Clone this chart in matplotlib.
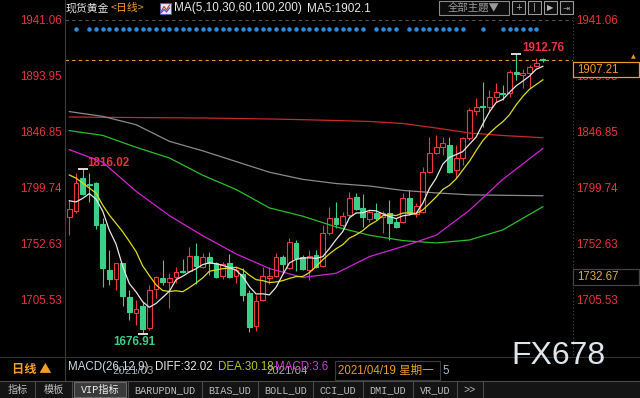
import matplotlib
matplotlib.use('Agg')
import matplotlib.pyplot as plt
import matplotlib.transforms as mtransforms
from matplotlib.patches import Rectangle
import pandas as pd

plt.rcParams['font.family'] = ['Liberation Sans', 'Noto Sans CJK SC', 'DejaVu Sans']

# ---- spot gold, daily candles ----
opens = [1775.3, 1780.4, 1808.1, 1803.5, 1803.9, 1769.4, 1730.7, 1723.2, 1736.6, 1708.0,
         1694.6, 1700.4, 1681.9, 1714.8, 1724.0, 1720.6, 1724.9, 1729.9, 1729.9, 1742.5,
         1733.3, 1741.7, 1736.6, 1725.7, 1736.6, 1725.7, 1727.4, 1711.4, 1683.6, 1705.5,
         1724.0, 1725.7, 1741.7, 1732.4, 1753.5, 1741.7, 1730.7, 1743.4, 1734.1, 1761.9,
         1774.5, 1768.6, 1777.0, 1792.2, 1782.9, 1773.7, 1778.7, 1775.3, 1778.7, 1771.1,
         1771.1, 1791.3, 1777.9, 1779.5, 1813.2, 1829.2, 1834.2, 1835.9, 1814.9, 1825.0,
         1841.8, 1864.5, 1868.7, 1867.9, 1876.3, 1879.6, 1879.6, 1897.3, 1894.8, 1896.5,
         1902.4, 1908.4]
highs = [1789.6, 1812.3, 1816.02, 1812.3, 1804.5, 1774.5, 1747.6, 1737.0, 1737.0, 1713.9,
         1705.5, 1703.8, 1718.1, 1725.5, 1739.2, 1728.2, 1733.3, 1740.0, 1750.1, 1753.5,
         1745.0, 1745.9, 1737.5, 1737.5, 1744.3, 1734.1, 1732.4, 1713.9, 1709.7, 1733.3,
         1733.3, 1745.0, 1743.4, 1757.7, 1756.0, 1743.4, 1747.6, 1747.6, 1768.6, 1783.7,
         1787.9, 1779.5, 1796.4, 1795.5, 1794.7, 1781.2, 1787.1, 1780.4, 1789.6, 1774.5,
         1795.5, 1798.1, 1787.1, 1817.4, 1842.6, 1844.3, 1842.6, 1842.6, 1835.9, 1842.6,
         1867.0, 1875.4, 1888.9, 1882.2, 1888.1, 1886.4, 1899.0, 1912.76, 1899.9, 1903.2,
         1909.1, 1909.1]
lows = [1760.2, 1778.7, 1793.5, 1788.0, 1765.2, 1716.4, 1718.1, 1713.9, 1700.4, 1688.7,
        1684.5, 1676.91, 1680.3, 1707.0, 1718.1, 1698.8, 1719.8, 1728.2, 1729.1, 1719.0,
        1732.4, 1726.5, 1724.0, 1723.2, 1724.0, 1719.8, 1704.7, 1679.0, 1679.5, 1704.7,
        1719.0, 1724.9, 1729.1, 1731.6, 1729.9, 1730.7, 1722.3, 1732.4, 1733.3, 1760.2,
        1766.1, 1767.0, 1775.3, 1781.2, 1766.9, 1771.1, 1772.8, 1762.0, 1756.0, 1766.1,
        1770.3, 1777.0, 1775.3, 1778.7, 1812.3, 1828.4, 1827.5, 1812.3, 1808.1, 1819.1,
        1840.1, 1861.1, 1851.1, 1863.7, 1872.1, 1873.8, 1876.3, 1890.6, 1883.9, 1883.9,
        1901.5, 1905.7]
closes = [1782.1, 1803.9, 1794.7, 1802.5, 1768.6, 1732.4, 1723.2, 1736.6, 1708.9, 1695.4,
          1697.9, 1681.1, 1713.9, 1724.9, 1720.6, 1724.0, 1729.1, 1729.1, 1742.5, 1734.1,
          1741.7, 1736.6, 1724.9, 1735.8, 1724.9, 1730.7, 1709.7, 1682.8, 1704.7, 1725.7,
          1726.0, 1741.7, 1735.8, 1754.3, 1740.8, 1731.6, 1742.5, 1733.3, 1761.9, 1774.5,
          1769.4, 1776.2, 1791.3, 1782.1, 1775.3, 1779.5, 1774.5, 1778.7, 1770.3, 1766.9,
          1791.3, 1778.7, 1784.6, 1813.2, 1829.2, 1834.2, 1837.6, 1813.2, 1825.0, 1841.8,
          1865.3, 1867.9, 1867.9, 1876.3, 1880.5, 1878.8, 1897.3, 1895.6, 1896.5, 1901.5,
          1904.9, 1907.21]
dates = pd.bdate_range('2021-02-19', periods=len(closes))

# moving averages as drawn
ma5 = [1789, 1788, 1791, 1795, 1790.4, 1780.4, 1764.3, 1752.7, 1733.9, 1719.3,
       1712.4, 1704.0, 1699.4, 1702.6, 1707.7, 1712.9, 1722.5, 1725.5, 1729.1, 1731.8,
       1735.3, 1736.8, 1736.0, 1734.6, 1732.8, 1730.6, 1725.2, 1716.8, 1710.6, 1710.7,
       1709.8, 1716.2, 1726.8, 1736.7, 1739.7, 1740.8, 1741.0, 1740.5, 1742.0, 1748.8,
       1756.3, 1763.1, 1774.7, 1778.7, 1778.9, 1780.9, 1780.5, 1778.0, 1775.7, 1774.0,
       1776.3, 1777.2, 1778.4, 1786.9, 1799.4, 1808.0, 1819.8, 1825.5, 1827.8, 1830.4,
       1836.6, 1842.6, 1853.6, 1863.8, 1871.6, 1874.3, 1880.2, 1885.7, 1889.7, 1893.9,
       1899.6, 1902.1]
ma10 = [1810.7, 1808, 1804, 1799.7, 1795.5, 1785.4, 1777, 1770, 1763, 1754.8,
        1746.4, 1734.2, 1726.1, 1718.3, 1713.5, 1712.7, 1713.3, 1712.5, 1715.9, 1719.8,
        1724.1, 1729.7, 1730.8, 1731.9, 1732.3, 1733.0, 1731.0, 1726.4, 1722.6, 1721.8,
        1720.2, 1720.7, 1721.8, 1723.7, 1725.2, 1725.3, 1728.6, 1733.7, 1739.4, 1744.3,
        1748.6, 1752.1, 1757.6, 1760.4, 1763.9, 1768.6, 1771.8, 1776.4, 1777.2, 1776.5,
        1778.6, 1778.9, 1778.2, 1781.3, 1786.7, 1792.2, 1798.5, 1802.0, 1807.4, 1814.9,
        1822.3, 1831.2, 1839.6, 1845.8, 1851.0, 1855.5, 1861.4, 1869.7, 1876.8, 1882.8,
        1886.8, 1890.7]
ma_long_idx = [0, 5, 10, 15, 20, 25, 30, 35, 40, 45, 50, 55, 60, 65, 71]
ma30 = [1832, 1821.5, 1797, 1776.5, 1759.6, 1744.3, 1732, 1724.5, 1728, 1742,
        1750.5, 1760, 1781, 1807, 1833]
ma60 = [1848, 1844, 1834, 1825, 1810.5, 1798.5, 1783, 1776, 1767, 1760,
        1755.5, 1753.5, 1756, 1764.5, 1784]
ma100 = [1864, 1860, 1853, 1839, 1831, 1822, 1813, 1807, 1803.5, 1801.4,
         1797.7, 1795.6, 1794, 1793.6, 1793.2]
ma200 = [1859.5, 1859.2, 1859, 1858.8, 1858.6, 1858.2, 1857.8, 1857.2, 1856.5, 1855.7,
         1854, 1850.2, 1846, 1843.9, 1842]

signal_idx = [1] + list(range(3, 45)) + list(range(46, 50)) + list(range(51, 60)) + [62] + list(range(65, 71))

price_levels = [1705.53, 1752.63, 1799.74, 1846.85, 1893.95, 1941.06]
side_price = 1732.67
macd_diff, macd_dea, macd_hist = 32.02, 30.18, 3.6

up_c, dn_c = '#f0373c', '#3ccf8a'
red_txt = '#e8343c'
orange = '#eb9a2c'

fig = plt.figure(figsize=(6.4, 3.98), dpi=100, facecolor='black')
W, H = 640, 398
ax = fig.add_axes([65 / W, (H - 355) / H, (573 - 65) / W, (355 - 17) / H])
ax.set_facecolor('black')
ov = fig.add_axes([0, 0, 1, 1])
ov.set_xlim(0, W)
ov.set_ylim(H, 0)
ov.axis('off')
ov.patch.set_alpha(0)

# candles
for i in range(len(closes)):
    o, h, l, c = opens[i], highs[i], lows[i], closes[i]
    col = up_c if c >= o else dn_c
    ax.vlines(i, l, h, color=col, lw=0.8, zorder=3)
    ax.add_patch(Rectangle((i - 0.36, min(o, c)), 0.72, max(abs(c - o), 0.5),
                           facecolor='black' if c >= o else col, edgecolor=col,
                           lw=0.8, zorder=4))

idx = list(range(len(closes)))
ax.plot(ma_long_idx, ma200, color='#c82828', lw=0.9, zorder=5)
ax.plot(ma_long_idx, ma100, color='#8a8a8a', lw=0.9, zorder=5)
ax.plot(ma_long_idx, ma60, color='#28c028', lw=0.9, zorder=5)
ax.plot(ma_long_idx, ma30, color='#d024d0', lw=0.9, zorder=5)
ax.plot(idx, ma10, color='#dcdc1e', lw=0.9, zorder=6)
ax.plot(idx, ma5, color='#e6e6e6', lw=0.9, zorder=6)

ax.axhline(price_levels[-1], color='#555555', ls=(0, (3, 3)), lw=0.8)
ax.axhline(closes[-1], color='#e0a030', ls=(0, (3, 3)), lw=0.8, zorder=2)

ax.set_xlim(-0.645, 75.52)
ax.set_ylim(1659.24, 1943.58)
ax.set_xticks([])
ax.set_yticks(price_levels)
ax.set_yticklabels([f'{v:.2f}' for v in price_levels])
ax.tick_params(axis='y', length=0, pad=2.5, labelsize=8.3, labelcolor=red_txt,
               labelleft=True, labelright=True)
for s in ax.spines.values():
    s.set_visible(False)

blend = mtransforms.blended_transform_factory(ax.transData, ov.transData)

# signal dots along the top
ax.plot(signal_idx, [29] * len(signal_idx), transform=blend, ls='none', marker='o',
        ms=2.2, color='#2b8ee0', clip_on=False)

# high / low marks
i_hi1 = highs.index(max(highs[:20]))
i_hi2 = highs.index(max(highs))
i_lo = lows.index(min(lows))
for i, v in [(i_hi1, highs[i_hi1]), (i_hi2, highs[i_hi2]), (i_lo, lows[i_lo])]:
    ax.plot(i, v, marker='_', ms=7, mew=1.2, color='white', zorder=7)
ax.annotate(f'{highs[i_hi1]:.2f}', xy=(i_hi1, highs[i_hi1]), xytext=(5, 0),
            textcoords='offset pixels', color=red_txt, fontsize=8.4, fontweight='bold',
            ha='left', va='bottom')
ax.annotate(f'{highs[i_hi2]:.2f}', xy=(i_hi2, highs[i_hi2]), xytext=(6, 0),
            textcoords='offset pixels', color=red_txt, fontsize=8.4, fontweight='bold',
            ha='left', va='bottom')
ax.annotate(f'{lows[i_lo]:.2f}', xy=(i_lo, lows[i_lo]), xytext=(-8, -2),
            textcoords='offset pixels', color='#3ccf8a', fontsize=8.4, fontweight='bold',
            ha='center', va='top', annotation_clip=False)

# frame lines
ov.plot([65, 65], [0, 381], color='#3a3a3a', lw=0.8)
ov.plot([573, 573], [17, 357], color='#4a4a4a', lw=0.8, ls=(0, (1, 2)))
ov.plot([0, W], [357, 357], color='#333333', lw=0.8)

# right-side value boxes
def to_px(price):
    return ov.transData.inverted().transform(ax.transData.transform((0, price)))[1]

for price, ec, tc in [(closes[-1], orange, orange), (side_price, '#444444', '#e0a84a')]:
    y = to_px(price)
    ov.add_patch(Rectangle((573, y + 1.5), 66, 15.5, facecolor='black', edgecolor=ec,
                           lw=0.9, zorder=10))
    ov.text(577, y + 9.5, f'{price:.2f}', color=tc, fontsize=8.3, va='center',
            ha='left', zorder=11)
ov.text(633, to_px(closes[-1]) - 3, '▲', color=orange, fontsize=4.5, ha='center',
        va='center', family='DejaVu Sans')

# header
ov.text(66, 8.5, '现货黄金', color='#e6e6e6', fontsize=7.8, va='center',
        family='Noto Sans CJK SC')
ov.text(111, 8.5, '<日线>', color=orange, fontsize=7.8, va='center',
        family='Noto Sans CJK SC')
ov.add_patch(Rectangle((160, 3), 11, 11, facecolor='#e8e8f4', edgecolor='#5a5aa0', lw=0.8))
ov.plot([161.5, 164, 166.5, 169.5], [11, 6.5, 10, 5], color='#d03030', lw=0.8)
ov.plot([161.5, 164, 166.5, 169.5], [12.5, 9.5, 12, 8], color='#3050d0', lw=0.8)
ov.text(174, 8.5, 'MA(5,10,30,60,100,200)', color='#e6e6e6', fontsize=8.5, va='center')
ov.text(307, 8.5, f'MA5:{ma5[-1]:.1f}', color='#e6e6e6', fontsize=8.5, va='center')

ov.add_patch(Rectangle((439, 1), 70, 14, facecolor='#0c0c0c', edgecolor='#8a8a8a', lw=0.8))
ov.text(474, 8.3, '全部主題▼', color='#9a9a9a', fontsize=7.5, ha='center', va='center',
        family='Noto Sans CJK SC')
for bx, g in zip([512, 528, 544, 560], ['+', '|', '▶', '⇥']):
    ov.add_patch(Rectangle((bx, 1), 13, 13, facecolor='#0c0c0c', edgecolor='#9a9a9a', lw=0.8))
    ov.text(bx + 6.5, 7.8, g, color='#b0b0b0', fontsize=6, ha='center', va='center',
            family='DejaVu Sans')

# month labels on the date axis
for i, d in enumerate(dates):
    if i > 0 and d.month != dates[i - 1].month and d.month in (3, 4):
        ov.text(i + 0.5, 371.5, d.strftime('%Y/%m'), transform=blend, color='#a8a8a8',
                fontsize=8.2, va='center', ha='left')

# indicator row
ov.text(12, 370, '日线 ▲', color='#f0a028', fontsize=8.8, fontweight='bold',
        va='center', family=['Noto Sans CJK SC', 'DejaVu Sans'])
ov.text(68, 367, 'MACD(26,12,9)', color='#c8d6e6', fontsize=8.3, va='center')
ov.text(155, 367, f'DIFF:{macd_diff:.2f}', color='#e8e8e8', fontsize=8.3, va='center')
ov.text(218, 367, f'DEA:{macd_dea:.2f}', color='#b4c81e', fontsize=8.3, va='center')
ov.text(275, 367, f'MACD:{macd_hist}', color='#d03cd0', fontsize=8.3, va='center')
ov.add_patch(Rectangle((335, 361), 105, 19, facecolor='black', edgecolor='#3a3a3a', lw=0.8,
                       zorder=5))
ov.text(338, 370.5, '2021/04/19 星期一', color=orange, fontsize=8.3, va='center', zorder=6)
ov.text(442, 370.5, '5', color='#a8b8c8', fontsize=8.3, va='center')
ov.text(511, 356, 'FX678', color='#dfe5ec', fontsize=23, va='center', ha='left')

# tab bar
tabs = ['指标', '模板', 'VIP指标', 'BARUPDN_UD', 'BIAS_UD', 'BOLL_UD', 'CCI_UD',
        'DMI_UD', 'VR_UD', '>>']
edges = [0, 35, 72, 128, 202, 258, 313, 363, 413, 457, 483]
ov.add_patch(Rectangle((0, 381), W, 17, facecolor='#141414', edgecolor='none'))
ov.plot([0, W], [381, 381], color='#4a4a4a', lw=0.8)
for k, name in enumerate(tabs):
    x0, x1 = edges[k], edges[k + 1]
    if name == 'VIP指标':
        ov.add_patch(Rectangle((x0 + 2, 382), x1 - x0 - 4, 15, facecolor='#3a3a3a',
                               edgecolor='#6a6a6a', lw=0.8))
    ov.plot([x1, x1], [381, 398], color='#4a4a4a', lw=0.8)
    ov.text((x0 + x1) / 2, 390, name, color='#f0f0f0' if name == 'VIP指标' else '#bdbdbd',
            fontsize=7.3, ha='center', va='center',
            family=['Liberation Mono', 'Noto Sans CJK SC'])

fig.savefig('out.png', dpi=100, facecolor='black')
